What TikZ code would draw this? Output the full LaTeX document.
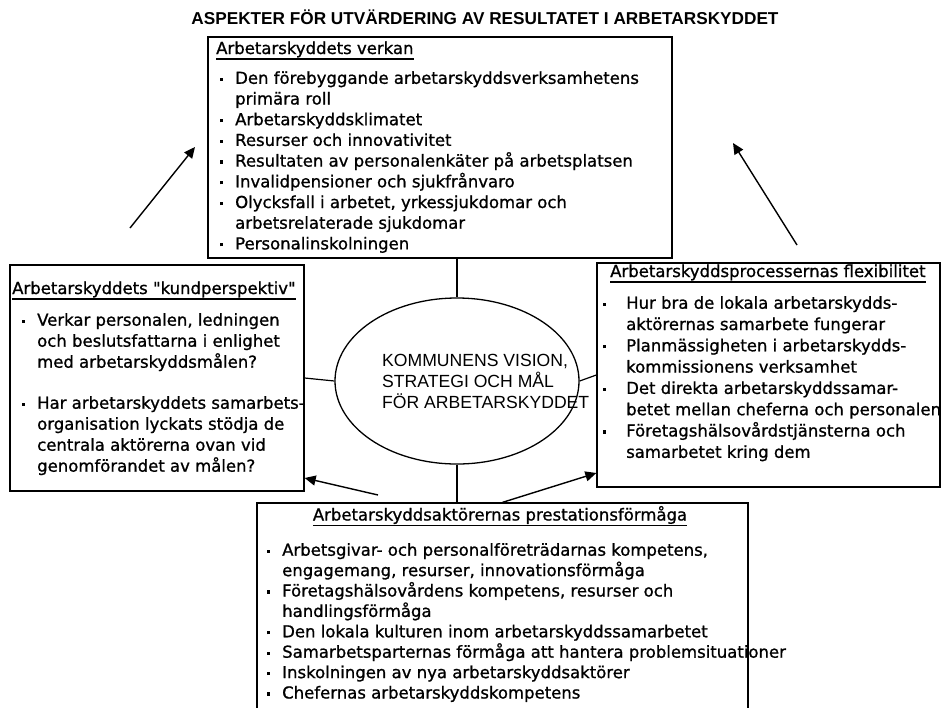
\documentclass[tikz,border=0pt]{standalone}
\usepackage{fontspec}
\setmainfont{DejaVu Sans}[FakeBold=1]
\newfontfamily\quotefont{DejaVu Sans}[FakeBold=1]
\newfontfamily\capsfont{Liberation Sans}
\usepackage{tikz}
\usetikzlibrary{arrows.meta,shapes.geometric,positioning}

\newlength\bulw
\setlength\bulw{16pt}
\newcommand\topstrut{\rule{0pt}{14pt}}
\newcommand\bul{\makebox[\bulw][l]{\hspace{1pt}\rule[3pt]{3.2pt}{3.2pt}}}
\newcommand\ind{\hspace*{\bulw}}
\newcommand\uhead[1]{\setbox0\hbox{#1}\rlap{\rule[-5.5pt]{\wd0}{1.1pt}}\box0}
\newcommand\dq{{\quotefont"}}

\begin{document}
\begin{tikzpicture}[x=1pt, y=-1pt,
                    box/.style={draw, line width=1.3pt, inner sep=0pt},
                    head/.style={inner sep=0pt, font=\fontsize{16.5}{20}\selectfont},
                    txt/.style={align=left, inner sep=0pt, anchor=north west,
                                font=\fontsize{16.5}{#1}\selectfont},
                    link/.style={line width=1.2pt},
                    arr/.style={-{Triangle[length=11pt,width=10pt]}, line width=1.4pt}]
    %\draw[help lines] (0,0) grid[step=50] (941,707);
    \useasboundingbox (0,0) rectangle (941,707);

   \node[inner sep=0pt, anchor=base, font=\capsfont\bfseries\fontsize{17.2}{20}\selectfont]
        (title) at (485,24) {ASPEKTER FÖR UTVÄRDERING AV RESULTATET I ARBETARSKYDDET};

   % boxes and the ellipse
   \node[box, minimum width=464pt, minimum height=221pt] (verkan_box) at (440,147.5) {};
   \node[box, minimum width=294pt, minimum height=226pt] (kund_box)   at (157,378)   {};
   \node[box, minimum width=343pt, minimum height=224pt] (flex_box)   at (768.5,375) {};
   \node[box, minimum width=491pt, minimum height=217pt] (prest_box)  at (502.5,611.5) {};
   \node[box, ellipse, minimum width=244pt, minimum height=166pt] (vision) at (457,381) {};

   \node[inner sep=0pt, anchor=north west, align=left,
         font=\capsfont\fontsize{17.6}{21}\selectfont] (vision_text) at (382,352)
        {\topstrut KOMMUNENS VISION,\\STRATEGI OCH MÅL\\FÖR ARBETARSKYDDET};

   % headings
   \node[head, anchor=base west] (verkan_head) at (216,54)    {\uhead{Arbetarskyddets verkan}};
   \node[head, anchor=base west] (kund_head)   at (12,294)    {\uhead{Arbetarskyddets \dq kundperspektiv\dq}};
   \node[head, anchor=base west] (flex_head)   at (610,277)   {\uhead{Arbetarskyddsprocessernas flexibilitet}};
   \node[head, anchor=base]      (prest_head)  at (500,520.5) {\uhead{Arbetarskyddsaktörernas prestationsförmåga}};

   % lists
   \node[txt=20.7] (verkan_list) at (219,69.6) {\topstrut\bul Den förebyggande arbetarskyddsverksamhetens\\
        \ind primära roll\\
        \bul Arbetarskyddsklimatet\\
        \bul Resurser och innovativitet\\
        \bul Resultaten av personalenkäter på arbetsplatsen\\
        \bul Invalidpensioner och sjukfrånvaro\\
        \bul Olycksfall i arbetet, yrkessjukdomar och\\
        \ind arbetsrelaterade sjukdomar\\
        \bul Personalinskolningen};

   \node[txt=21] (kund_list) at (21,311.5) {\topstrut\bul Verkar personalen, ledningen\\
        \ind och beslutsfattarna i enlighet\\
        \ind med arbetarskyddsmålen?\\[20pt]
        \bul Har arbetarskyddets samarbets-\\
        \ind organisation lyckats stödja de\\
        \ind centrala aktörerna ovan vid\\
        \ind genomförandet av målen?};

   \node[txt=21.3, execute at begin node={\setlength\bulw{24pt}}] (flex_list) at (602,294.5)
        {\topstrut\bul Hur bra de lokala arbetarskydds-\\
        \ind aktörernas samarbete fungerar\\
        \bul Planmässigheten i arbetarskydds-\\
        \ind kommissionens verksamhet\\
        \bul Det direkta arbetarskyddssamar-\\
        \ind betet mellan cheferna och personalen\\
        \bul Företagshälsovårdstjänsterna och\\
        \ind samarbetet kring dem};

   \node[txt=20.4] (prest_list) at (266,541.5) {\topstrut\bul Arbetsgivar- och personalföreträdarnas kompetens,\\
        \ind engagemang, resurser, innovationsförmåga\\
        \bul Företagshälsovårdens kompetens, resurser och\\
        \ind handlingsförmåga\\
        \bul Den lokala kulturen inom arbetarskyddssamarbetet\\
        \bul Samarbetsparternas förmåga att hantera problemsituationer\\
        \bul Inskolningen av nya arbetarskyddsaktörer\\
        \bul Chefernas arbetarskyddskompetens};

   % connectors
   \draw[link] (verkan_box.south -| vision.north) -- (vision.north);
   \draw[link] (vision.south) -- (vision.south |- prest_box.north);
   \draw[link] (kund_box.east) -- (vision.west);
   \draw[link] (vision.east) -- (flex_box.west);

   % arrows
   \coordinate (tl_tail) at (130,228);
   \coordinate (tl_tip)  at (195,147);
   \coordinate (tr_tail) at (797,245);
   \coordinate (tr_tip)  at (733,143);
   \coordinate (bl_tail) at (378,495);
   \draw[arr] (tl_tail) -- (tl_tip);
   \draw[arr] (tr_tail) -- (tr_tip);
   \draw[arr] (bl_tail) -- ([yshift=-100pt]kund_box.east);
   \draw[arr] (prest_box.north) -- ([yshift=-98pt]flex_box.west);

\end{tikzpicture}
\end{document}
